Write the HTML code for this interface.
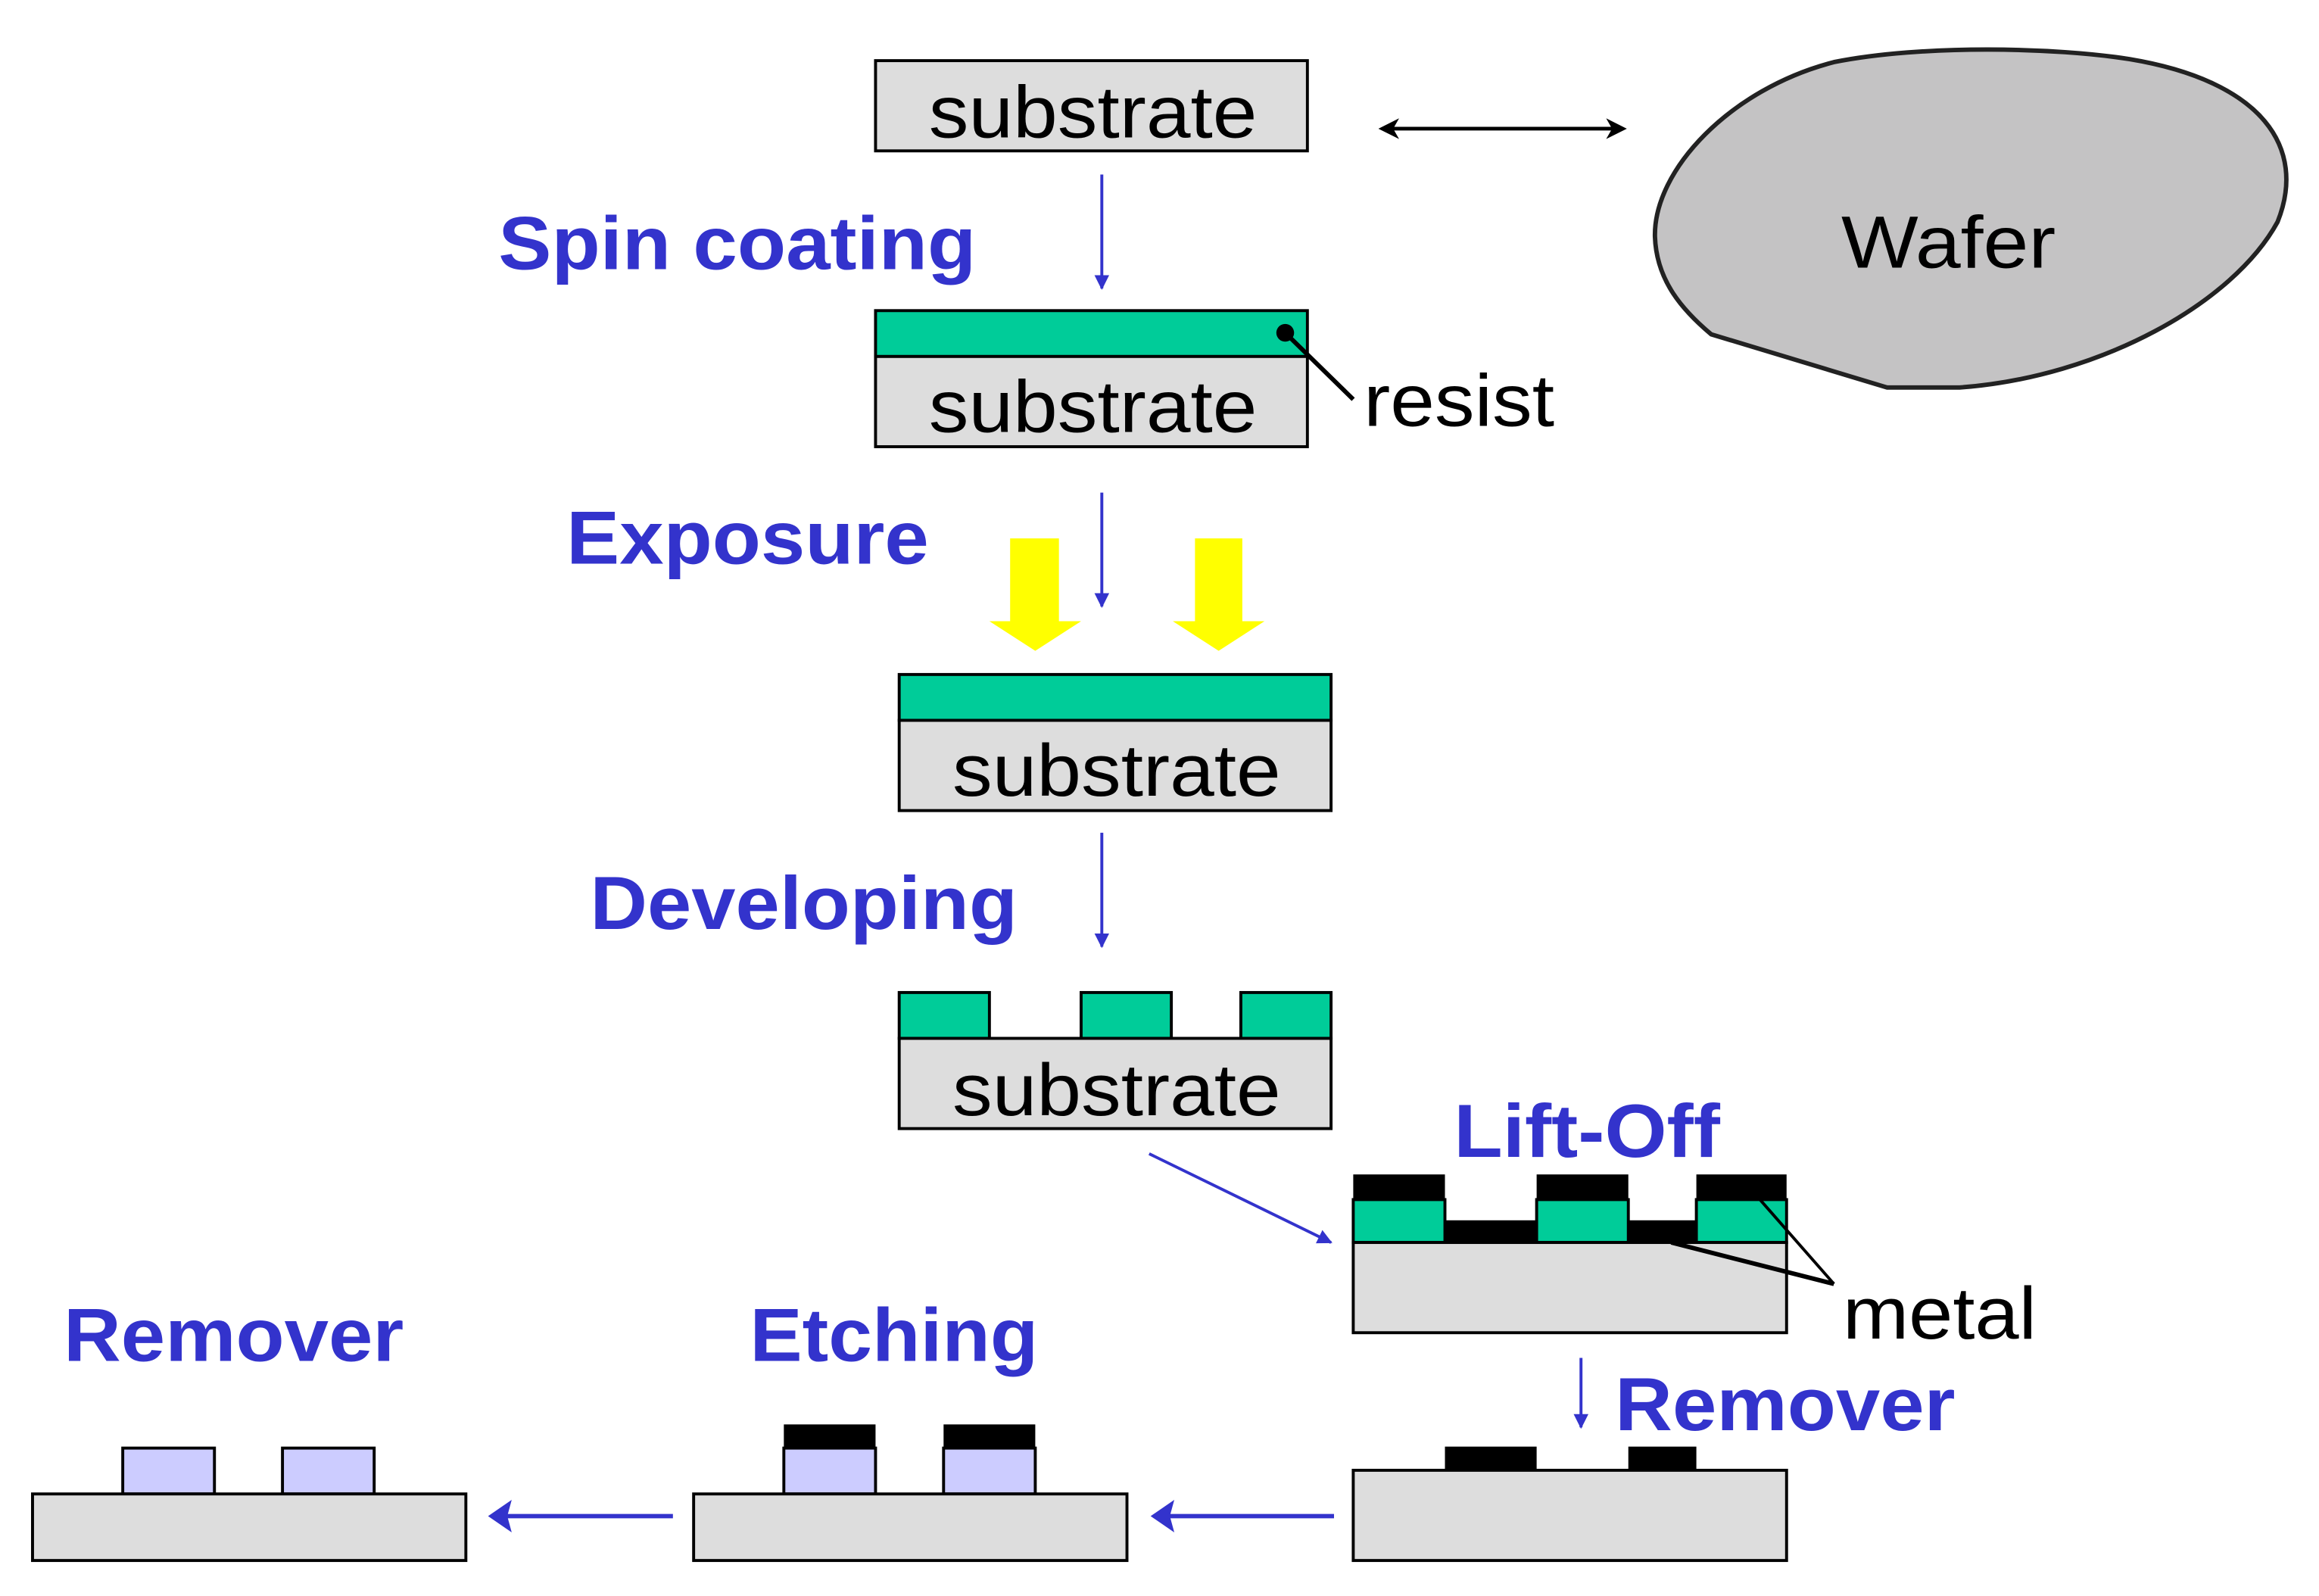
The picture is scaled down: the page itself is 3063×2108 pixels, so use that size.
<!DOCTYPE html>
<html><head><meta charset="utf-8"><style>
html,body{margin:0;padding:0;background:#fff;}
svg{display:block;}
text{font-family:"Liberation Sans",Arial,sans-serif;}
.b{fill:#3333cc;font-weight:bold;font-size:51px;}
.s{fill:#000;font-size:50px;}
</style></head><body>
<svg width="3063" height="2108" viewBox="0 0 1568 1079" preserveAspectRatio="none" xmlns="http://www.w3.org/2000/svg">
<defs>
<marker id="ab" markerWidth="10" markerHeight="10" refX="9" refY="5" orient="auto" markerUnits="userSpaceOnUse" viewBox="0 0 10 10"><path d="M0,0 L10,5 L0,10 Z" fill="#3333cc"/></marker>
</defs>
<g stroke="#000" stroke-width="2">
<rect x="592" y="41" width="292" height="61" fill="#dddddd"/>
<rect x="592" y="210" width="292" height="31" fill="#00cc99"/>
<rect x="592" y="241" width="292" height="61" fill="#dddddd"/>
<rect x="608" y="456" width="292" height="31" fill="#00cc99"/>
<rect x="608" y="487" width="292" height="61" fill="#dddddd"/>
<rect x="608" y="671" width="61" height="31" fill="#00cc99"/>
<rect x="731" y="671" width="61" height="31" fill="#00cc99"/>
<rect x="839" y="671" width="61" height="31" fill="#00cc99"/>
<rect x="608" y="702" width="292" height="61" fill="#dddddd"/>
<rect x="915" y="811" width="62" height="29" fill="#00cc99"/>
<rect x="1039" y="811" width="62" height="29" fill="#00cc99"/>
<rect x="1147" y="811" width="61" height="29" fill="#00cc99"/>
<rect x="915" y="840" width="293" height="61" fill="#dddddd"/>
<rect x="915" y="994" width="293" height="61" fill="#dddddd"/>
<rect x="530" y="979" width="62" height="31" fill="#ccccff"/>
<rect x="638" y="979" width="62" height="31" fill="#ccccff"/>
<rect x="469" y="1010" width="293" height="45" fill="#dddddd"/>
<rect x="83" y="979" width="62" height="31" fill="#ccccff"/>
<rect x="191" y="979" width="62" height="31" fill="#ccccff"/>
<rect x="22" y="1010" width="293" height="45" fill="#dddddd"/>
</g>
<g fill="#000">
<rect x="915" y="794" width="62" height="17"/>
<rect x="1039" y="794" width="62" height="17"/>
<rect x="1147" y="794" width="61" height="17"/>
<rect x="977" y="825" width="62" height="15"/>
<rect x="1101" y="825" width="46" height="15"/>
<rect x="977" y="978" width="62" height="16"/>
<rect x="1101" y="978" width="46" height="16"/>
<rect x="530" y="963" width="62" height="16"/>
<rect x="638" y="963" width="62" height="16"/>
<circle cx="869" cy="225" r="6"/>
</g>
<line x1="869" y1="225" x2="915" y2="270" stroke="#000" stroke-width="3"/>
<line x1="1130" y1="840" x2="1240" y2="868" stroke="#000" stroke-width="3"/>
<line x1="1190" y1="811" x2="1240" y2="868" stroke="#000" stroke-width="2"/>
<path d="M1157,226 L1276,262 L1325,262 C1420,255 1510,205 1540,150 C1560,100 1530,55 1440,40 C1390,32 1300,30 1240,42 C1170,60 1118,115 1119,160 C1120,190 1138,210 1157,226 Z" fill="#c4c3c4" stroke="#222" stroke-width="3"/>
<line x1="940" y1="87" x2="1092" y2="87" stroke="#000" stroke-width="2.5"/>
<path d="M932,87 L946,80 L942,87 L946,94 Z" fill="#000"/>
<path d="M1100,87 L1086,80 L1090,87 L1086,94 Z" fill="#000"/>
<g stroke="#3333cc" stroke-width="2" marker-end="url(#ab)">
<line x1="745" y1="118" x2="745" y2="195"/>
<line x1="745" y1="333" x2="745" y2="410"/>
<line x1="745" y1="563" x2="745" y2="640"/>
<line x1="777" y1="780" x2="900" y2="840"/>
<line x1="1069" y1="918" x2="1069" y2="965"/>
</g>
<g stroke="#3333cc" stroke-width="3">
<line x1="902" y1="1025" x2="790" y2="1025"/>
<line x1="455" y1="1025" x2="343" y2="1025"/>
</g>
<path d="M778,1025 L794,1014 L791,1025 L794,1036 Z" fill="#3333cc"/>
<path d="M330,1025 L346,1014 L343,1025 L346,1036 Z" fill="#3333cc"/>
<path d="M683,364 H716 V420 H731 L700,440 L669,420 H683 Z" fill="#ffff00"/>
<path d="M808,364 H840 V420 H855 L824,440 L793,420 H808 Z" fill="#ffff00"/>
<text class="s" x="628" y="93" textLength="222" lengthAdjust="spacingAndGlyphs">substrate</text>
<text class="s" x="628" y="292" textLength="222" lengthAdjust="spacingAndGlyphs">substrate</text>
<text class="s" x="644" y="538" textLength="222" lengthAdjust="spacingAndGlyphs">substrate</text>
<text class="s" x="644" y="754" textLength="222" lengthAdjust="spacingAndGlyphs">substrate</text>
<text class="s" x="1245" y="181" textLength="145" lengthAdjust="spacingAndGlyphs">Wafer</text>
<text class="s" x="922" y="288" textLength="129" lengthAdjust="spacingAndGlyphs">resist</text>
<text class="s" x="1246" y="905" textLength="131" lengthAdjust="spacingAndGlyphs">metal</text>
<text class="b" x="337" y="182" textLength="323" lengthAdjust="spacingAndGlyphs">Spin coating</text>
<text class="b" x="383" y="381" textLength="245" lengthAdjust="spacingAndGlyphs">Exposure</text>
<text class="b" x="399" y="628" textLength="289" lengthAdjust="spacingAndGlyphs">Developing</text>
<text class="b" x="983" y="782" textLength="180" lengthAdjust="spacingAndGlyphs">Lift-Off</text>
<text class="b" x="1092" y="967" textLength="230" lengthAdjust="spacingAndGlyphs">Remover</text>
<text class="b" x="507" y="920" textLength="195" lengthAdjust="spacingAndGlyphs">Etching</text>
<text class="b" x="43" y="920" textLength="230" lengthAdjust="spacingAndGlyphs">Remover</text>
</svg>
</body></html>
